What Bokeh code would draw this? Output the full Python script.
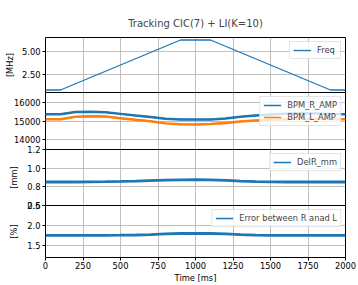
from bokeh.plotting import figure
from bokeh.layouts import column
from bokeh.models import Range1d, FixedTicker, PrintfTickFormatter, Legend, LegendItem
from bokeh.embed import file_html
from bokeh.resources import INLINE

# ---------------- data ----------------
time_freq = [0, 100, 900, 1100, 1900, 2000]
freq_mhz = [0.8, 0.8, 6.3, 6.3, 0.8, 0.8]

time_ms = [0, 100, 200, 300, 400, 500, 600, 700, 800, 900, 1000,
           1100, 1200, 1300, 1400, 1500, 1600, 1700, 1800, 1900, 2000]
bpm_r_amp = [15380, 15385, 15500, 15520, 15490, 15400, 15310, 15235, 15130, 15093, 15090,
             15095, 15150, 15240, 15310, 15360, 15410, 15440, 15420, 15390, 15380]
bpm_l_amp = [15110, 15110, 15240, 15275, 15250, 15165, 15080, 15000, 14880, 14835, 14825,
             14840, 14900, 14980, 15035, 15070, 15100, 15120, 15115, 15110, 15110]
delr_mm = [0.852, 0.852, 0.852, 0.853, 0.855, 0.858, 0.862, 0.867, 0.872, 0.875, 0.876,
           0.875, 0.870, 0.862, 0.856, 0.853, 0.852, 0.852, 0.852, 0.852, 0.852]
error_pct = [1.755, 1.755, 1.755, 1.755, 1.755, 1.757, 1.762, 1.772, 1.790, 1.800, 1.805,
             1.800, 1.790, 1.772, 1.760, 1.755, 1.755, 1.755, 1.755, 1.755, 1.755]

x_ticks = [0, 250, 500, 750, 1000, 1250, 1500, 1750, 2000]
freq_ticks = [2.5, 5.0]
amp_ticks = [14000, 15000, 16000]
delr_ticks = [0.6, 0.8, 1.0, 1.2]
err_ticks = [1.5, 2.0, 2.5]

title_text = "Tracking CIC(7) + LI(K=10)"
C0 = "#1f77b4"
C1 = "#ff7f0e"
FONT = "DejaVu Sans"
SMALL = "8.3px"

x_range = Range1d(0, 2000)


def make_fig(height, yr, yticks, fmt, ylabel, top, bottom, mtop, label_standoff=4):
    p = figure(width=358, height=height, x_range=x_range, y_range=Range1d(*yr),
               output_backend="svg", toolbar_location=None,
               min_border_left=45, min_border_right=13,
               min_border_top=top, min_border_bottom=bottom,
               margin=(mtop, 0, 0, 0))
    p.border_fill_color = None
    p.background_fill_color = "white"
    p.outline_line_color = "black"
    p.outline_line_width = 1
    for ax in (p.xaxis[0], p.yaxis[0]):
        ax.axis_line_color = None
        ax.major_tick_line_color = "black"
        ax.major_tick_out = 3
        ax.major_tick_in = 0
        ax.minor_tick_line_color = None
        ax.major_label_text_font = FONT
        ax.major_label_text_font_size = SMALL
        ax.major_label_text_color = "black"
        ax.axis_label_text_font = FONT
        ax.axis_label_text_font_size = SMALL
        ax.axis_label_text_font_style = "normal"
        ax.axis_label_text_color = "black"
    p.xaxis.ticker = FixedTicker(ticks=x_ticks)
    p.xgrid.ticker = FixedTicker(ticks=x_ticks)
    p.yaxis.ticker = FixedTicker(ticks=yticks)
    p.ygrid.ticker = FixedTicker(ticks=yticks)
    p.yaxis.formatter = PrintfTickFormatter(format=fmt)
    p.yaxis.major_label_standoff = 2
    p.xaxis.major_label_standoff = 1
    if ylabel:
        p.yaxis.axis_label = ylabel
        p.yaxis.axis_label_standoff = label_standoff
    for g in (p.xgrid, p.ygrid):
        g.grid_line_color = "#b0b0b0"
        g.grid_line_width = 0.8
    return p


def add_legend(p, items):
    leg = Legend(items=items, location="top_right")
    leg.label_text_font = FONT
    leg.label_text_font_size = SMALL
    leg.glyph_width = 18
    leg.glyph_height = 10
    leg.label_height = 10
    leg.label_standoff = 6
    leg.padding = 3
    leg.spacing = 2
    leg.margin = 4
    leg.border_line_color = "#cccccc"
    leg.border_line_width = 1
    leg.background_fill_alpha = 0.8
    p.add_layout(leg)


# panel 1: frequency
p1 = make_fig(98, (0.525, 6.575), freq_ticks, "%.2f", "[MHz]", 37, 6, 0, 4)
p1.xaxis.visible = False
p1.title.text = title_text
p1.title.text_font = FONT
p1.title.text_font_size = "10px"
p1.title.text_font_style = "normal"
p1.title.align = "center"
p1.title.offset = -4
p1.title.standoff = 18
r_f = p1.line(time_freq, freq_mhz, line_color=C0, line_width=1.3)
add_legend(p1, [LegendItem(label="Freq", renderers=[r_f])])

# panel 2: amplitudes
p2 = make_fig(69, (13450, 16570), amp_ticks, "%d", None, 6, 6, -12)
p2.xaxis.visible = False
p2.line(time_ms, bpm_r_amp, line_color=C0, line_width=2.5)
p2.line(time_ms, bpm_l_amp, line_color=C1, line_width=2.5)
r_r = p2.line(time_ms, bpm_r_amp, line_color=C0, line_width=1.5)
r_l = p2.line(time_ms, bpm_l_amp, line_color=C1, line_width=1.5)
add_legend(p2, [LegendItem(label="BPM_R_AMP", renderers=[r_r]),
                LegendItem(label="BPM_L_AMP", renderers=[r_l])])

# panel 3: DelR
p3 = make_fig(68, (0.6, 1.2), delr_ticks, "%.1f", "[mm]", 6, 6, -12, 5)
p3.xaxis.visible = False
p3.line(time_ms, delr_mm, line_color=C0, line_width=2.8)
r_d = p3.line(time_ms, delr_mm, line_color=C0, line_width=1.5)
add_legend(p3, [LegendItem(label="DelR_mm", renderers=[r_d])])

# panel 4: error
p4 = make_fig(86, (1.2, 2.5), err_ticks, "%.1f", "[%]", 6, 24, -12, 5)
p4.xaxis.axis_label = "Time [ms]"
p4.xaxis.axis_label_standoff = 1
p4.line(time_ms, error_pct, line_color=C0, line_width=2.8)
r_e = p4.line(time_ms, error_pct, line_color=C0, line_width=1.5)
add_legend(p4, [LegendItem(label="Error between R anad L", renderers=[r_e])])

layout = column(p1, p2, p3, p4)

open("out.html", "w").write(file_html(layout, INLINE))
